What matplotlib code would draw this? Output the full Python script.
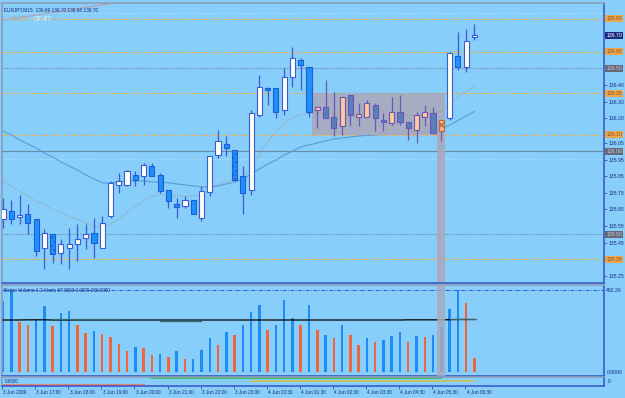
import matplotlib
matplotlib.use('Agg')
import matplotlib.pyplot as plt
from matplotlib.patches import Rectangle
from matplotlib.transforms import blended_transform_factory

plt.rcParams['font.family'] = ['Liberation Sans', 'DejaVu Sans']

# ---------------- data ----------------
opens  = [135.59,135.64,135.605,135.62,135.59,135.42,135.50,135.39,135.42,135.44,
          135.48,135.51,135.42,135.61,135.80,135.80,135.86,135.85,135.91,135.86,
          135.77,135.68,135.67,135.71,135.60,135.755,135.98,136.045,136.01,135.85,
          135.77,136.22,136.38,136.38,136.25,136.45,136.55,136.51,136.25,136.27,
          136.21,136.15,136.34,136.21,136.21,136.28,136.19,136.17,136.24,136.18,
          136.13,136.21,136.23,136.12,136.20,136.575,136.51,136.69]
highs  = [135.72,135.71,135.74,135.68,135.59,135.53,135.50,135.47,135.54,135.56,
          135.56,135.60,135.61,135.82,135.87,135.89,135.88,135.93,135.93,135.87,
          135.77,135.72,135.73,135.71,135.79,135.97,136.13,136.09,136.01,135.91,
          136.25,136.46,136.39,136.38,136.50,136.63,136.56,136.51,136.27,136.43,
          136.36,136.33,136.34,136.29,136.31,136.29,136.23,136.33,136.34,136.18,
          136.24,136.28,136.27,136.19,136.60,136.72,136.74,136.77]
lows   = [135.54,135.56,135.56,135.50,135.37,135.29,135.33,135.32,135.29,135.34,
          135.41,135.36,135.42,135.60,135.75,135.79,135.79,135.80,135.85,135.75,
          135.66,135.60,135.66,135.62,135.58,135.73,135.96,135.97,135.82,135.62,
          135.74,136.21,136.28,136.20,136.22,136.39,136.37,136.21,136.14,136.20,
          136.09,136.10,136.15,136.15,136.21,136.12,136.12,136.16,136.16,136.07,
          136.05,136.15,136.11,136.06,136.19,136.49,136.48,136.67]
closes = [135.65,135.59,135.615,135.57,135.40,135.51,135.38,135.44,135.44,135.47,
          135.50,135.45,135.57,135.81,135.82,135.88,135.83,135.92,135.85,135.76,
          135.70,135.665,135.71,135.62,135.76,135.97,136.06,136.02,135.83,135.75,
          136.23,136.39,136.37,136.24,136.45,136.56,136.52,136.24,136.27,136.20,
          136.14,136.33,136.22,136.225,136.29,136.20,136.18,136.24,136.18,136.14,
          136.22,136.24,136.11,136.19,136.59,136.51,136.665,136.70]

ma_fast = [135.82,135.79,135.76,135.73,135.70,135.68,135.65,135.63,135.61,135.59,
           135.57,135.55,135.54,135.56,135.59,135.63,135.67,135.70,135.73,135.74,
           135.73,135.73,135.73,135.73,135.74,135.77,135.80,135.82,135.83,135.84,
           135.90,135.98,136.06,136.12,136.17,136.20,136.22,136.23,136.23,136.23,
           136.22,136.22,136.23,136.23,136.23,136.23,136.22,136.22,136.22,136.22,
           136.22,136.22,136.23,136.24,136.29,136.33,136.36,136.39]
ma_slow = [136.123,136.099,136.069,136.045,136.020,135.990,135.966,135.936,135.912,135.888,
           135.858,135.834,135.810,135.810,135.816,135.822,135.822,135.822,135.816,135.816,
           135.810,135.804,135.798,135.792,135.786,135.786,135.792,135.804,135.816,135.834,
           135.864,135.894,135.924,135.948,135.978,136.002,136.027,136.039,136.051,136.063,
           136.075,136.081,136.087,136.093,136.096,136.099,136.102,136.105,136.108,136.111,
           136.114,136.117,136.123,136.135,136.159,136.186,136.213,136.240]

volumes = [426,492,300,282,318,396,276,354,366,282,
           234,246,228,210,168,126,150,144,102,108,
           90,126,78,78,132,204,162,240,222,282,
           360,402,252,282,432,324,282,402,252,222,
           204,282,222,162,204,180,192,216,240,180,
           216,210,222,270,378,492,414,84]
vol_colors = ['b','b','r','r','b','b','r','b','b','r',
              'r','b','r','r','r','r','b','r','r','b',
              'r','b','r','b','b','b','r','b','r','b',
              'b','b','r','b','b','b','r','b','r','b',
              'r','b','r','r','b','r','b','b','b','r',
              'b','r','b','b','b','b','r','r']
vol_ma = [312,312,312,313,313,313,312,312,312,312,
          312,312,312,312,312,312,312,312,312,312,
          312,312,312,312,312,312,312,312,312,312,
          312,312,312,312,312,312,312,312,312,312,
          312,312,312,312,312,312,312,312,312,313,
          313,313,313,313,314,315,315,315]

date_labels = ["3 Jun 2009", "3 Jun 17:00", "3 Jun 18:00", "3 Jun 19:00", "3 Jun 20:00",
               "3 Jun 21:00", "3 Jun 22:00", "3 Jun 23:00", "4 Jun 00:30", "4 Jun 01:30",
               "4 Jun 02:30", "4 Jun 03:30", "4 Jun 04:30", "4 Jun 05:30", "4 Jun 06:30"]
date_bars = [0, 4, 8, 12, 16, 20, 24, 28, 32, 36, 40, 44, 48, 52, 56]

price_ticks = [136.40, 136.30, 136.20, 136.05, 135.95, 135.85, 135.75, 135.65, 135.55, 135.45, 135.25]
orange_levels = [136.80, 136.60, 136.35, 136.10, 135.35]
grey_dotted_levels = [136.50, 135.50]
solid_level = 136.00
light_levels = [136.835, 135.955]
current_price = 136.70

box_bars = (37.36, 53.45)
box_prices = (136.10, 136.35)
band_bars = (52.48, 53.45)

# ---------------- figure ----------------
W, H = 625, 398
BG = '#87CEFA'
fig = plt.figure(figsize=(W / 100, H / 100), dpi=100, facecolor=BG)

def rect(x0, y0, x1, y1):
    return [x0 / W, 1 - y1 / H, (x1 - x0) / W, (y1 - y0) / H]

ax = fig.add_axes(rect(2, 3, 604, 283))
axv = fig.add_axes(rect(2, 285, 604, 376))
axb = fig.add_axes(rect(2, 377, 604, 386))

XL = (-0.12, 72.67)
AXC = '#3A5CC8'
for a in (ax, axv, axb):
    a.set_facecolor(BG)
    a.set_xlim(*XL)
    for s in a.spines.values():
        s.set_color(AXC)
        s.set_linewidth(1.2)
    a.spines['left'].set_color('#8C9CB8')
    a.spines['top'].set_color('#8C9CB8')
    a.set_xticks([])

ax.set_ylim(135.207, 136.894)
axv.set_ylim(-24, 522)
axb.set_ylim(0, 9)

n = len(opens)
xs = list(range(n))

# horizontal levels
for lv in orange_levels:
    ax.axhline(lv, color='#E8B050', lw=0.8, ls=(0, (5, 1.6, 0.8, 1.6)), zorder=1)
for lv in grey_dotted_levels:
    ax.axhline(lv, color='#6E8CA8', lw=0.8, ls=(0, (1, 1)), zorder=1)
for lv in light_levels:
    ax.axhline(lv, color='#CFE8F8', lw=0.6, ls=(0, (1, 2)), zorder=1)
ax.axhline(solid_level, color='#6F8AA6', lw=0.8, zorder=1)

# trend line top-left
ax.plot([-0.1, 13.5], [136.79, 136.894], color='#B8A0A8', lw=0.8, zorder=1, clip_on=True)

# MAs
ax.plot(xs, ma_slow, color='#5C9AD8', lw=0.8, zorder=1.5)
ax.plot(xs, ma_fast, color='#A89890', lw=0.8, ls=(0, (1, 1.5)), zorder=3)

# box & band
ax.add_patch(Rectangle((box_bars[0], box_prices[0]), box_bars[1] - box_bars[0],
                       box_prices[1] - box_prices[0], fc='#A9AABD', ec='none', alpha=0.92, zorder=2))
ax.add_patch(Rectangle((band_bars[0], 135.0), band_bars[1] - band_bars[0],
                       box_prices[0] - 135.0, fc='#A9AABD', ec='none', alpha=0.92, zorder=2))

# candles
bw = 0.62
for i in range(n):
    o, h, l, c = opens[i], highs[i], lows[i], closes[i]
    bull = c >= o
    inbox = 38 <= i <= 53
    if inbox:
        fc = '#FFC99C' if bull else '#5C7EB8'
        ec = '#6A58B8'
        wc = '#6A58B8'
    else:
        fc = '#FFFFF2' if bull else '#1E90FF'
        ec = '#3A5CD8' if bull else '#1E5ED0'
        wc = '#3A5CD8'
    ax.vlines(i, l, h, color=wc, lw=0.9, zorder=4)
    bot = min(o, c)
    ht = max(abs(c - o), 0.006)
    hatch = None
    if i in (6, 28):
        hatch = '....'
    if i == 53:
        hatch = 'xxxx'
        fc = '#F7B98A'
        ec = '#C06838'
    ax.add_patch(Rectangle((i - bw / 2, bot), bw, ht, fc=fc, ec=ec, lw=0.8,
                           hatch=hatch, zorder=5))

# right price axis
ax.yaxis.tick_right()
ax.set_yticks(price_ticks)
ax.set_yticklabels([f"{p:.2f}" for p in price_ticks])
ax.tick_params(axis='y', length=2, width=0.6, color='#3050B0', pad=1,
               labelsize=3.7, labelcolor='#1A2A80')

tr = blended_transform_factory(ax.transAxes, ax.transData)
for lv in orange_levels:
    ax.text(1.004, lv, f"{lv:.2f}", transform=tr, fontsize=3.7, color='#8A5520',
            va='center', ha='left', clip_on=False,
            bbox=dict(boxstyle='square,pad=0.18', fc='#EBA64C', ec='none'))
for lv in grey_dotted_levels + [solid_level]:
    ax.text(1.004, lv, f"{lv:.2f}", transform=tr, fontsize=3.7, color='#C8C8D4',
            va='center', ha='left', clip_on=False,
            bbox=dict(boxstyle='square,pad=0.18', fc='#666876', ec='none'))
ax.text(1.004, current_price, f"{current_price:.2f}", transform=tr, fontsize=3.7,
        color='#FFFFFF', va='center', ha='left', clip_on=False,
        bbox=dict(boxstyle='square,pad=0.18', fc='#1C2A80', ec='none'))

# titles
ax.text(0.004, 0.985, "EURJPY,M15  136.69 136.70 136.68 136.70", transform=ax.transAxes,
        fontsize=3.4, color='#1A2A80', va='top', ha='left')
ax.text(0.011, 0.955, "GMT", transform=ax.transAxes, fontsize=5.2, color='#A8B0C0',
        va='top', ha='left')
ax.text(0.052, 0.955, "07:47", transform=ax.transAxes, fontsize=5.2, color='#EAF4FF',
        va='top', ha='left')

# ---------------- volume panel ----------------
cmap = {'b': '#1E8CF4', 'r': '#F2643A'}
axv.bar(xs, volumes, width=0.3, color=[cmap[c] for c in vol_colors], zorder=2)
axv.plot(xs, vol_ma, color='#000000', lw=0.9, zorder=3)
axv.plot([6, 14], [316, 316], color='#3A6670', lw=0.9, zorder=3)
axv.plot([19, 24], [306, 306], color='#3A6670', lw=0.9, zorder=3)
axv.plot([54, 57.2], [319, 319], color='#3A6670', lw=0.9, zorder=3)
axv.axhline(492, color='#3250D8', lw=0.7, ls=(0, (4, 1.5, 1, 1.5)), zorder=1)
axv.add_patch(Rectangle((band_bars[0], -24), band_bars[1] - band_bars[0], 546,
                        fc='#A9AABD', ec='none', alpha=0.85, zorder=4))
axv.set_yticks([])
axv.text(0.004, 0.97, "Better Volume 1.2 Alerts 67.0000 0.0000 260.0000",
         transform=axv.transAxes, fontsize=3.4, color='#1A2A80', va='top', ha='left')
trv = blended_transform_factory(axv.transAxes, axv.transData)
axv.text(1.004, 492, "492.26", transform=trv, fontsize=3.7, color='#1A2A80',
         va='center', ha='left', clip_on=False)
axv.text(1.004, 0, "0.0000", transform=trv, fontsize=3.7, color='#1A2A80',
         va='center', ha='left', clip_on=False)

# ---------------- bottom panel ----------------
axb.set_yticks([])
axb.plot([0, 17], [1, 1], color='#E88070', lw=1.4)
axb.plot([18, 53], [7.7, 7.7], color='#3CC060', lw=1.4)
axb.plot([30, 57], [5, 5], color='#C8C050', lw=1.2)
axb.text(0.004, 0.5, "0.0000", transform=axb.transAxes, fontsize=3.4,
         color='#1A2A80', va='center', ha='left')
axb.text(1.006, 0.5, "0", transform=axb.transAxes, fontsize=3.6,
         color='#1A2A80', va='center', ha='left', clip_on=False)

# date axis
axb.set_xticks([b - 0.1 for b in date_bars])
axb.set_xticklabels([])
axb.tick_params(axis='x', length=2.5, width=0.6, color='#3050B0', direction='out')
trb = blended_transform_factory(axb.transData, axb.transAxes)
for b, lab in zip(date_bars, date_labels):
    axb.text(b + 0.05, -0.75, lab, transform=trb, fontsize=3.4, color='#1A2A80',
             va='center', ha='left', clip_on=False)

fig.savefig('out.png', dpi=100, facecolor=BG)
